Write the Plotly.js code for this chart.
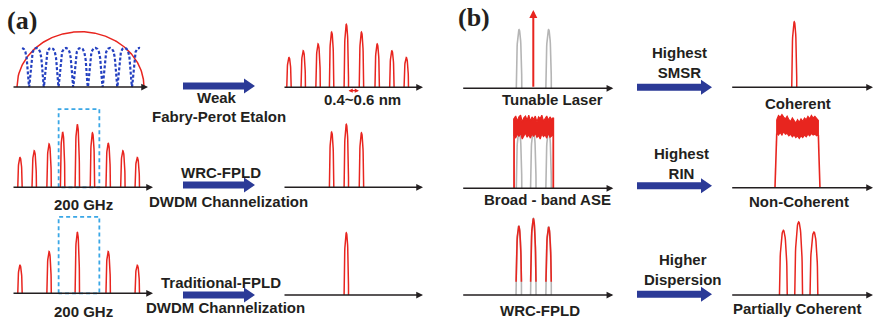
<!DOCTYPE html>
<html><head><meta charset="utf-8">
<script src="https://cdn.plot.ly/plotly-3.0.1.min.js"></script>
<style>html,body{margin:0;padding:0;background:#fff}#chart{width:874px;height:322px}</style>
</head><body><div id="chart"></div>
<script>
// ================= DATA =================
// (a) channel positions (channel index) and relative powers
const fpChannelPos      = [-3.9, -2.93, -1.92, -1, 0, 1.03, 2.1, 3.1, 4.08];
const etalonOutHeights  = [0.35, 0.43, 0.51, 0.65, 0.74, 0.65, 0.51, 0.43, 0.35];
const wrcSourceHeights  = [0.35, 0.43, 0.51, 0.65, 0.74, 0.64, 0.52, 0.43, 0.35];
const wrcSelectedPos    = [-1, 0, 1.03];
const wrcSelectedHeights= [0.65, 0.74, 0.64];
const tradPos           = [-3.9, -1.92, 0, 2.1, 4.08];
const tradHeights       = [0.33, 0.49, 0.72, 0.49, 0.33];
const tradSelectedPos   = [0];
const tradSelectedHeights = [0.73];
const gainEnvelope      = {halfSpan: 4.32, height: 0.65};
const etalonCurve       = {start: -3.97, end: 4.05, height: 0.46, coeff: 8};
const selectWindow      = {x: [-1.27, 1.5], topRow2: 0.92, topRow3: 0.9};
const spacingMark       = [0.05, 0.86];
// (b)
const tunableSidePos    = [-0.97, 1.04];
const tunableSideHeights= [0.69, 0.69];
const tunableLine       = {pos: 0, height: 0.92};
const aseGrayPos        = [-0.97, 0, 1.04];
const aseGrayHeights    = [0.69, 0.69, 0.69];
const aseLeftEdges      = [-1.31, 1.36];
const aseLeftUpper = [0.82,0.85,0.79,0.84,0.86,0.78,0.83,0.85,0.80,0.86,0.79,0.84,0.81,0.85,0.78,0.84,0.82,0.86,0.79,0.83,0.85,0.80,0.84,0.81,0.83];
const aseLeftLower = [0.62,0.59,0.64,0.61,0.65,0.58,0.62,0.65,0.60,0.63,0.59,0.64,0.61,0.65,0.60,0.62,0.58,0.64,0.61,0.63,0.59,0.65,0.60,0.62,0.63];
const wrcBPos           = [-0.99, 0, 1.04];
const wrcBHeights       = [0.81, 0.90, 0.80];
const wrcBGrayLevel     = 0.155;
const coherentPos       = [-0.29];
const coherentHeights   = [0.77];
const nonCohBase        = [-1.6, 1.46];
const nonCohTop         = [-1.48, 1.35];
const aseRightUpper = [0.80,0.85,0.83,0.86,0.83,0.81,0.84,0.80,0.78,0.82,0.79,0.76,0.80,0.77,0.81,0.78,0.82,0.80,0.84,0.81,0.85,0.82,0.84,0.81,0.79];
const aseRightLower = [0.64,0.62,0.65,0.62,0.66,0.63,0.64,0.61,0.63,0.60,0.62,0.59,0.61,0.58,0.61,0.59,0.62,0.60,0.63,0.61,0.64,0.62,0.63,0.61,0.62];
const partialPos        = [-1.03, 0.01, 1.05];
const partialHeights    = [0.76, 0.86, 0.74];

const labelTexts = ["Weak","Fabry-Perot Etalon","0.4~0.6 nm","200 GHz","WRC-FPLD","DWDM Channelization",
  "200 GHz","Traditional-FPLD","DWDM Channelization",
  "Tunable Laser","Broad - band ASE","WRC-FPLD","Highest<br>SMSR","Highest<br>RIN","Higher<br>Dispersion",
  "Coherent","Non-Coherent","Partially Coherent"];
const panelTags = ["(a)","(b)"];

// ================= LAYOUT GEOMETRY =================
const W=874, H=322, S=14.7, PH=85;
const panels = [
 {x0:12,x1:148,yA:87,c:80.5},
 {x0:283,x1:423,yA:87.3,c:346.3},
 {x0:12,x1:153,yA:187.3,c:77.3},
 {x0:283,x1:423,yA:187.3,c:346.3},
 {x0:12,x1:153,yA:293.3,c:77.3},
 {x0:283,x1:423,yA:295,c:346.3},
 {x0:461.7,x1:613.3,yA:88.3,c:533.3},
 {x0:730.7,x1:873,yA:87.3,c:798.5},
 {x0:461.7,x1:613.3,yA:188.3,c:533.3},
 {x0:730.7,x1:873,yA:187.7,c:798.5},
 {x0:461.7,x1:613.3,yA:295,c:533.3},
 {x0:730.7,x1:873,yA:295,c:798.5}
];
const labelPos = [[217,97],[219,116],[362,100],[83,204],[221,172],[228,201],
  [83,311],[221,282],[225,307],
  [552,100],[547,199],[540,310],[679,62.5],[681,163.5],[683,269.5],
  [798,103],[799,201.5],[797,308.5]];
const tagPos = [[22,21],[474,17]];
const blueArrows = [[183,255,86],[183,255,185],[183,255,295],[637,712,87.3],[637,712,185.7],[637,712,294.3]];

const RED='#e8251f', GRAY='#b5b5b5', BLUE='#2b3a97', LBLUE='#3aa7e6', INK='#231f20';

// ================= HELPERS =================
function peaks(pos, hts, width, minY){
  const xs=[], ys=[];
  pos.forEach((p,i)=>{
    const h=hts[i];
    let a0=0, a1=Math.PI;
    if(minY!==undefined){ const t=Math.asin(Math.min(1,minY/h)); a0=t; a1=Math.PI-t; }
    for(let k=0;k<=40;k++){
      const th=a1-(a1-a0)*k/40;
      xs.push(p+width/2*Math.cos(th)); ys.push(h*Math.sin(th));
    }
    xs.push(null); ys.push(null);
  });
  return {x:xs,y:ys};
}
function tr(i, d, color, width, extra){
  return Object.assign({type:'scatter',mode:'lines',x:d.x,y:d.y,xaxis:'x'+(i===1?'':i),yaxis:'y'+(i===1?'':i),
    line:{color:color,width:width},hoverinfo:'skip',cliponaxis:false,showlegend:false},extra||{});
}
function band(x0,x1,up,lo){
  const n=up.length, xs=[], ys=[];
  for(let k=0;k<n;k++){xs.push(x0+(x1-x0)*k/(n-1)); ys.push(up[k]);}
  for(let k=n-1;k>=0;k--){xs.push(x0+(x1-x0)*k/(n-1)); ys.push(lo[k]);}
  xs.push(xs[0]); ys.push(ys[0]);
  return {x:xs,y:ys};
}

// ================= TRACES =================
const traces=[];
// a1L: gain envelope + etalon
(function(){
  const xs=[],ys=[];
  for(let k=0;k<=200;k++){const x=-gainEnvelope.halfSpan+2*gainEnvelope.halfSpan*k/200; xs.push(x); ys.push(gainEnvelope.height*Math.sqrt(Math.max(0,1-(x/gainEnvelope.halfSpan)**2)));}
  traces.push(tr(1,{x:xs,y:ys},RED,1.5));
  const ex=[],ey=[],F=etalonCurve.coeff;
  for(let k=0;k<=3000;k++){const x=etalonCurve.start+(etalonCurve.end-etalonCurve.start)*k/3000; const c=Math.cos(Math.PI*x)**2; ex.push(x); ey.push(etalonCurve.height*(F*c/(1+F*c))/(F/(1+F)));}
  traces.push(tr(1,{x:ex,y:ey},BLUE,2,{line:{color:'#2440c0',width:2.2,dash:'3px,2px'}}));
})();
traces.push(tr(2,peaks(fpChannelPos,etalonOutHeights,0.3),RED,1.5));
traces.push(tr(3,peaks(fpChannelPos,wrcSourceHeights,0.3),RED,1.5));
traces.push(tr(4,peaks(wrcSelectedPos,wrcSelectedHeights,0.3),RED,1.5));
traces.push(tr(5,peaks(tradPos,tradHeights,0.3),RED,1.5));
traces.push(tr(6,peaks(tradSelectedPos,tradSelectedHeights,0.3),RED,1.5));
// selection windows
[[3,selectWindow.topRow2],[5,selectWindow.topRow3]].forEach(([i,t])=>{
  const [a,b]=selectWindow.x;
  traces.push(tr(i,{x:[a,a,b,b,a],y:[0,t,t,0,0]},LBLUE,1.8,{line:{color:LBLUE,width:1.8,dash:'4px,3px'}}));
});
// b1L
traces.push(tr(7,peaks(tunableSidePos,tunableSideHeights,0.37),GRAY,1.6));
// b2L
traces.push(tr(9,peaks(aseGrayPos,aseGrayHeights,0.37),GRAY,1.6));
traces.push(tr(9,band(aseLeftEdges[0],aseLeftEdges[1],aseLeftUpper,aseLeftLower),RED,1.2,{fill:'toself',fillcolor:RED}));
traces.push(tr(9,{x:[aseLeftEdges[0],aseLeftEdges[0],null,aseLeftEdges[1],aseLeftEdges[1]],y:[0,aseLeftUpper[0],null,aseLeftUpper[aseLeftUpper.length-1],0]},RED,1.8));
// b3L
traces.push(tr(11,peaks(wrcBPos,wrcBHeights,0.37),GRAY,1.6));
traces.push(tr(11,peaks(wrcBPos,wrcBHeights,0.37,wrcBGrayLevel),RED,1.6));
// b1R
traces.push(tr(8,peaks(coherentPos,coherentHeights,0.34),RED,1.5));
// b2R
traces.push(tr(10,band(nonCohTop[0],nonCohTop[1],aseRightUpper,aseRightLower),RED,1.2,{fill:'toself',fillcolor:RED}));
traces.push(tr(10,{x:[nonCohBase[0],nonCohTop[0],null,nonCohTop[1],nonCohBase[1]],y:[0,aseRightLower[0],null,aseRightLower[aseRightLower.length-1],0]},RED,1.6));
// b3R
traces.push(tr(12,peaks(partialPos,partialHeights,0.53),RED,1.5));

// ================= LAYOUT =================
const layout={width:W,height:H,margin:{l:0,r:0,t:0,b:0},paper_bgcolor:'#fff',plot_bgcolor:'rgba(0,0,0,0)',
  showlegend:false,annotations:[],shapes:[],font:{family:'Arial, Liberation Sans, sans-serif'}};
panels.forEach((p,j)=>{
  const i=j+1, sx=(i===1?'':i);
  const xr=[(p.x0-p.c)/S,(p.x1-p.c)/S];
  layout['xaxis'+sx]={domain:[p.x0/W,p.x1/W],range:xr,visible:false,fixedrange:true,anchor:'y'+sx};
  layout['yaxis'+sx]={domain:[1-(p.yA+4)/H,1-(p.yA-86)/H],range:[-4/PH,86/PH],visible:false,fixedrange:true,anchor:'x'+sx};
  layout.annotations.push({xref:'x'+sx,yref:'y'+sx,axref:'x'+sx,ayref:'y'+sx,x:xr[1],y:0,ax:xr[0],ay:0,
    showarrow:true,arrowhead:2,arrowsize:0.9,arrowwidth:1.5,arrowcolor:INK,text:'',standoff:0});
});
// spacing marker
layout.annotations.push({xref:'x2',yref:'y2',axref:'x2',ayref:'y2',x:spacingMark[1],y:-0.04,ax:spacingMark[0],ay:-0.04,
  showarrow:true,arrowhead:2,startarrowhead:2,arrowside:'end+start',arrowsize:0.7,startarrowsize:0.7,arrowwidth:1.2,arrowcolor:RED,text:''});
// tunable laser line
layout.annotations.push({xref:'x7',yref:'y7',axref:'x7',ayref:'y7',x:tunableLine.pos,y:tunableLine.height,ax:tunableLine.pos,ay:0,
  showarrow:true,arrowhead:2,arrowsize:0.8,arrowwidth:2,arrowcolor:RED,text:''});
labelTexts.forEach((t,k)=>{
  layout.annotations.push({xref:'paper',yref:'paper',x:labelPos[k][0]/W,y:1-labelPos[k][1]/H,xanchor:'center',yanchor:'middle',
    showarrow:false,text:'<b>'+t+'</b>',font:{size:15,color:INK,family:'Arial, Liberation Sans, sans-serif'}});
});
panelTags.forEach((t,k)=>{
  layout.annotations.push({xref:'paper',yref:'paper',x:tagPos[k][0]/W,y:1-tagPos[k][1]/H,xanchor:'center',yanchor:'middle',
    showarrow:false,text:'<b>'+t+'</b>',font:{size:26,color:INK,family:'Times New Roman, Liberation Serif, serif'}});
});
function P(x,y){return (x/W).toFixed(5)+','+(1-y/H).toFixed(5);}
blueArrows.forEach(([a,b,y])=>{
  const h=b-11;
  layout.shapes.push({type:'path',xref:'paper',yref:'paper',fillcolor:BLUE,line:{width:0},
    path:'M'+P(a,y-3.5)+'L'+P(h,y-3.5)+'L'+P(h,y-7.5)+'L'+P(b,y)+'L'+P(h,y+7.5)+'L'+P(h,y+3.5)+'L'+P(a,y+3.5)+'Z'});
});
Plotly.newPlot('chart',traces,layout,{displayModeBar:false,staticPlot:true});
</script></body></html>
